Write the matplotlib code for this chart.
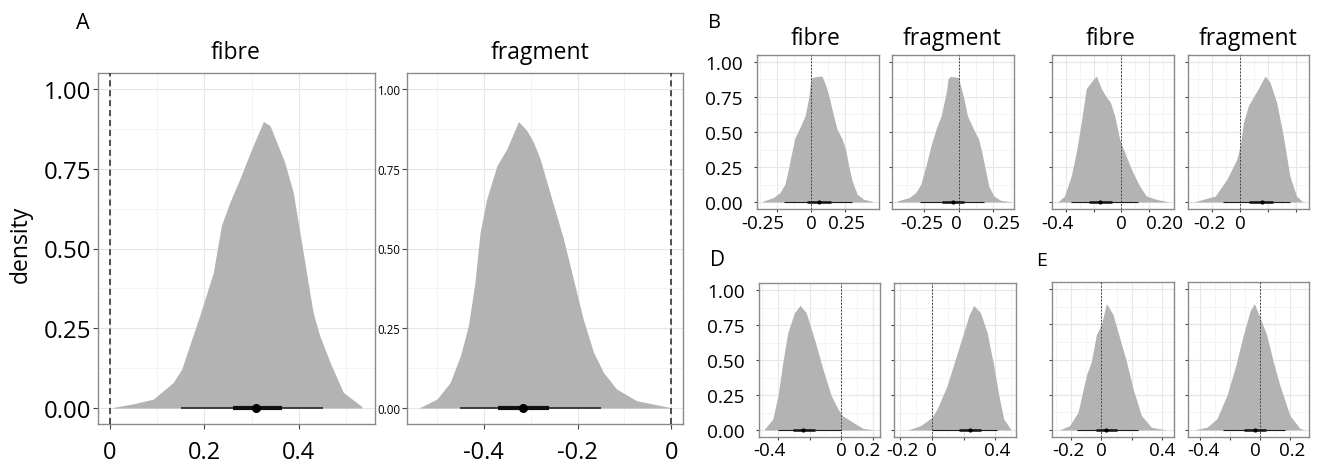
import matplotlib
matplotlib.use("Agg")
import matplotlib.pyplot as plt
from matplotlib.transforms import ScaledTranslation

plt.rcParams['font.family'] = ['Open Sans', 'DejaVu Sans']

# ---------------- data ----------------
# Panel A
A_fibre_x = [0.007, 0.049, 0.092, 0.113, 0.134, 0.152, 0.190, 0.219, 0.236, 0.254, 0.275, 0.303, 0.325,
             0.339, 0.353, 0.370, 0.388, 0.402, 0.416, 0.430, 0.444, 0.466, 0.494, 0.533]
A_fibre_d = [0.002, 0.013, 0.028, 0.054, 0.080, 0.122, 0.289, 0.425, 0.572, 0.645, 0.718, 0.822, 0.898,
             0.885, 0.833, 0.770, 0.676, 0.551, 0.425, 0.300, 0.227, 0.143, 0.049, 0.005]
A_fibre_q = [0.15, 0.45, 0.26, 0.365, 0.31]   # thin lo, thin hi, thick lo, thick hi, point

A_frag_x = [-0.536, -0.500, -0.472, -0.450, -0.433, -0.419, -0.408, -0.394, -0.372, -0.351, -0.326, -0.308,
            -0.294, -0.280, -0.255, -0.230, -0.209, -0.188, -0.166, -0.145, -0.117, -0.074, -0.003]
A_frag_d = [0.002, 0.028, 0.080, 0.164, 0.258, 0.394, 0.551, 0.655, 0.760, 0.812, 0.898, 0.869,
            0.833, 0.781, 0.655, 0.530, 0.404, 0.279, 0.175, 0.112, 0.060, 0.023, 0.002]
A_frag_q = [-0.45, -0.15, -0.37, -0.26, -0.316]

# Panel B
B_fibre_x = [-0.350, -0.276, -0.227, -0.190, -0.165, -0.140, -0.116, -0.079, -0.042, -0.017, 0.000, 0.015,
             0.081, 0.106, 0.131, 0.167, 0.192, 0.229, 0.254, 0.278, 0.303, 0.340, 0.389, 0.451]
B_fibre_d = [0.007, 0.031, 0.067, 0.127, 0.234, 0.354, 0.462, 0.533, 0.617, 0.737, 0.880, 0.892,
             0.900, 0.844, 0.761, 0.617, 0.522, 0.450, 0.378, 0.258, 0.151, 0.055, 0.019, 0.005]
B_fibre_q = [-0.20, 0.30, -0.025, 0.15, 0.058]

B_frag_x = [-0.448, -0.362, -0.313, -0.276, -0.239, -0.202, -0.165, -0.128, -0.091, -0.079, -0.062, -0.005,
            0.012, 0.037, 0.062, 0.106, 0.143, 0.167, 0.192, 0.217, 0.254, 0.303, 0.377]
B_frag_d = [0.007, 0.031, 0.067, 0.127, 0.258, 0.402, 0.522, 0.617, 0.785, 0.880, 0.897, 0.890,
            0.833, 0.737, 0.617, 0.522, 0.450, 0.354, 0.234, 0.112, 0.043, 0.012, 0.002]
B_frag_q = [-0.28, 0.18, -0.125, 0.035, -0.045]

# Panel C (unlabelled, top right)
C_fibre_x = [-0.458, -0.410, -0.361, -0.325, -0.289, -0.253, -0.209, -0.180, -0.144, -0.108, -0.079, -0.048,
             -0.012, 0.024, 0.084, 0.132, 0.180, 0.253, 0.337]
C_fibre_d = [0.000, 0.043, 0.187, 0.354, 0.570, 0.810, 0.868, 0.900, 0.810, 0.750, 0.713, 0.617,
             0.450, 0.354, 0.210, 0.115, 0.043, 0.019, 0.002]
C_fibre_q = [-0.36, 0.12, -0.234, -0.065, -0.157]

C_frag_x = [-0.333, -0.179, -0.095, -0.024, 0.000, 0.024, 0.060, 0.095, 0.131, 0.179, 0.214, 0.262,
            0.310, 0.357, 0.405, 0.452]
C_frag_d = [0.000, 0.043, 0.163, 0.306, 0.400, 0.570, 0.690, 0.750, 0.810, 0.900, 0.856, 0.713,
            0.474, 0.187, 0.043, 0.000]
C_frag_q = [-0.12, 0.357, 0.06, 0.238, 0.155]

# Panel D
D_fibre_x = [-0.485, -0.433, -0.400, -0.370, -0.338, -0.296, -0.260, -0.222, -0.169, -0.116, -0.063, -0.021,
             0.010, 0.074, 0.137, 0.200]
D_fibre_d = [0.007, 0.078, 0.245, 0.480, 0.696, 0.838, 0.890, 0.838, 0.648, 0.435, 0.245, 0.150,
             0.100, 0.055, 0.012, 0.002]
D_fibre_q = [-0.40, 0.0, -0.306, -0.165, -0.243]

D_frag_x = [-0.148, -0.074, 0.000, 0.032, 0.095, 0.147, 0.200, 0.232, 0.263, 0.306, 0.348, 0.390,
            0.422, 0.453, 0.496]
D_frag_d = [0.002, 0.030, 0.090, 0.150, 0.316, 0.506, 0.696, 0.815, 0.890, 0.838, 0.696, 0.458,
            0.245, 0.078, 0.007]
D_frag_q = [0.0, 0.41, 0.168, 0.306, 0.242]

# Panel E
E_fibre_x = [-0.273, -0.208, -0.153, -0.098, -0.066, -0.033, 0.000, 0.033, 0.076, 0.120, 0.164, 0.207,
             0.262, 0.328, 0.426]
E_fibre_d = [0.000, 0.031, 0.127, 0.390, 0.486, 0.677, 0.750, 0.897, 0.820, 0.653, 0.486, 0.294,
             0.103, 0.019, 0.000]
E_fibre_q = [-0.16, 0.24, -0.033, 0.105, 0.033]

E_frag_x = [-0.442, -0.353, -0.287, -0.220, -0.166, -0.110, -0.066, -0.038, 0.000, 0.044, 0.088, 0.132,
            0.199, 0.265, 0.298]
E_frag_d = [0.000, 0.019, 0.079, 0.246, 0.438, 0.677, 0.845, 0.897, 0.797, 0.677, 0.486, 0.318,
            0.103, 0.012, 0.000]
E_frag_q = [-0.243, 0.166, -0.106, 0.04, -0.033]

Y_TICKS = [0.0, 0.25, 0.5, 0.75, 1.0]
Y_LABELS = ["0.00", "0.25", "0.50", "0.75", "1.00"]
TITLES = ["fibre", "fragment"]

# ---------------- figure ----------------
W, H = 1319, 464
fig = plt.figure(figsize=(W / 100, H / 100), dpi=100)


def rect(l, t, r, b):
    return [l / W, 1 - b / H, (r - l) / W, (b - t) / H]


FILL = '#b3b3b3'
GRID_MAJ = '#e6e6e6'
GRID_MIN = '#f2f2f2'
BORDER = '#8a8a8a'


def panel(box, x, d, q, xlim, xticks, xlabels, big=False, ylab=None, ylab_size=13.7,
          xlab_size=13.5, xpad=1.5, ypad=8.0, shifts=None):
    ax = fig.add_axes(rect(*box))
    step = xticks[1] - xticks[0]
    minor_x = [t + step / 2 for t in [xticks[0] - step] + list(xticks)]
    minor_y = [t + 0.125 for t in Y_TICKS[:-1]]
    ax.set_xticks(xticks)
    ax.set_xticklabels(xlabels, fontsize=xlab_size)
    ax.set_xticks(minor_x, minor=True)
    ax.set_yticks(Y_TICKS)
    ax.set_yticks(minor_y, minor=True)
    if ylab is None:
        ax.set_yticklabels([])
    else:
        ax.set_yticklabels(Y_LABELS, fontsize=ylab_size)
    ax.grid(which='major', color=GRID_MAJ, lw=0.8, zorder=0)
    ax.grid(which='minor', color=GRID_MIN, lw=0.6, zorder=0)
    ax.set_axisbelow(True)
    ax.fill_between(x, 0, d, color=FILL, lw=0, zorder=2)
    if big:
        ax.axvline(0, color='#222222', lw=1.1, ls=(0, (4, 2.5)), zorder=3)
        lw_thin, lw_thick, ms = 1.1, 3.0, 6.5
        tl = 3.5
    else:
        ax.axvline(0, color='#444444', lw=0.7, ls=(0, (2, 1.5)), zorder=3)
        lw_thin, lw_thick, ms = 0.8, 1.8, 3.0
        tl = 2.2
    ax.plot([q[0], q[1]], [0, 0], color='#1a1a1a', lw=lw_thin, solid_capstyle='butt', zorder=4)
    ax.plot([q[2], q[3]], [0, 0], color='#111111', lw=lw_thick, solid_capstyle='butt', zorder=5)
    ax.plot([q[4]], [0], 'o', color='black', ms=ms, mew=0, zorder=6)
    for s in ax.spines.values():
        s.set_color(BORDER)
        s.set_linewidth(1.0)
    ax.tick_params(which='major', length=tl, width=0.8, color='#444444', labelcolor='black')
    ax.tick_params(axis='x', pad=xpad)
    ax.tick_params(axis='y', pad=ypad)
    ax.tick_params(which='minor', length=0)
    if shifts:
        for lab, dx in zip(ax.get_xticklabels(), shifts):
            if dx:
                lab.set_transform(lab.get_transform() +
                                  ScaledTranslation(dx / 100.0, 0, fig.dpi_scale_trans))
    # limits last (setting ticks may widen the view)
    ax.set_xlim(*xlim)
    ax.set_ylim(-0.05, 1.05)
    return ax


# Panel A
panel((98, 74, 375, 425), A_fibre_x, A_fibre_d, A_fibre_q, (-0.025, 0.561),
      [0.0, 0.2, 0.4], ["0", "0.2", "0.4"], big=True, ylab=True,
      ylab_size=17.3, xlab_size=17, xpad=8, ypad=1.2)
panel((407, 74, 683, 425), A_frag_x, A_frag_d, A_frag_q, (-0.564, 0.025),
      [-0.4, -0.2, 0.0], ["-0.4", "-0.2", "0"], big=True, ylab=True,
      ylab_size=8.3, xlab_size=17, xpad=8, ypad=1.2)

# Panel B
panel((757, 56, 879, 210), B_fibre_x, B_fibre_d, B_fibre_q, (-0.395, 0.50),
      [-0.25, 0.0, 0.25], ["-0.25", "0", "0.25"], ylab=True, shifts=[-14, 1, 2])
panel((892, 56, 1014, 210), B_frag_x, B_frag_d, B_frag_q, (-0.485, 0.40),
      [-0.25, 0.0, 0.25], ["-0.25", "0", "0.25"], shifts=[-3, -2, 8])

# Panel C
panel((1052, 56, 1174, 210), C_fibre_x, C_fibre_d, C_fibre_q, (-0.50, 0.38),
      [-0.4, -0.2, 0.0, 0.2], ["-0.4", "", "0", "0.20"], shifts=[-8, 0, 0, 15])
panel((1188, 56, 1309, 210), C_frag_x, C_frag_d, C_frag_q, (-0.375, 0.495),
      [-0.2, 0.0, 0.2, 0.4], ["-0.2", "0", "", ""], shifts=[-3, 0, 0, 0])

# Panel D
panel((759, 284, 880, 438), D_fibre_x, D_fibre_d, D_fibre_q, (-0.52, 0.245),
      [-0.4, -0.2, 0.0, 0.2], ["-0.4", "", "0", "0.2"], ylab=True, xpad=0.5,
      shifts=[-9, 0, 0, -6])
panel((894, 284, 1016, 438), D_frag_x, D_frag_d, D_frag_q, (-0.24, 0.53),
      [-0.2, 0.0, 0.2, 0.4], ["-0.2", "0", "", "0.4"], xpad=0.5,
      shifts=[2, -1, 0, 2])

# Panel E
panel((1052, 283, 1174, 438), E_fibre_x, E_fibre_d, E_fibre_q, (-0.324, 0.476),
      [-0.2, 0.0, 0.2, 0.4], ["-0.2", "0", "", "0.4"], xpad=0.5,
      shifts=[-3, 0, 0, 0])
panel((1188, 283, 1309, 438), E_frag_x, E_frag_d, E_frag_q, (-0.479, 0.326),
      [-0.4, -0.2, 0.0, 0.2], ["-0.4", "", "0", "0.2"], xpad=0.5,
      shifts=[4, 0, -5, 2])


def ftext(px, py, s, **kw):
    fig.text(px / W, 1 - py / H, s, **kw)


# facet titles
TS = 16.5
ftext(236, 59, TITLES[0], ha='center', va='baseline', fontsize=TS)
ftext(540, 59, TITLES[1], ha='center', va='baseline', fontsize=TS)
ftext(816, 45, TITLES[0], ha='center', va='baseline', fontsize=TS)
ftext(952, 45, TITLES[1], ha='center', va='baseline', fontsize=TS)
ftext(1111, 45, TITLES[0], ha='center', va='baseline', fontsize=TS)
ftext(1248, 45, TITLES[1], ha='center', va='baseline', fontsize=TS)

# panel letters
ftext(83, 29, "A", ha='center', va='baseline', fontsize=15.5)
ftext(714, 28, "B", ha='center', va='baseline', fontsize=14.5)
ftext(718, 266, "D", ha='center', va='baseline', fontsize=15)
ftext(1042, 265.5, "E", ha='center', va='baseline', fontsize=14)

# y-axis label
ftext(21, 244, "density", ha='center', va='center', rotation=90, fontsize=16.5)

fig.savefig("out.png", dpi=100)
